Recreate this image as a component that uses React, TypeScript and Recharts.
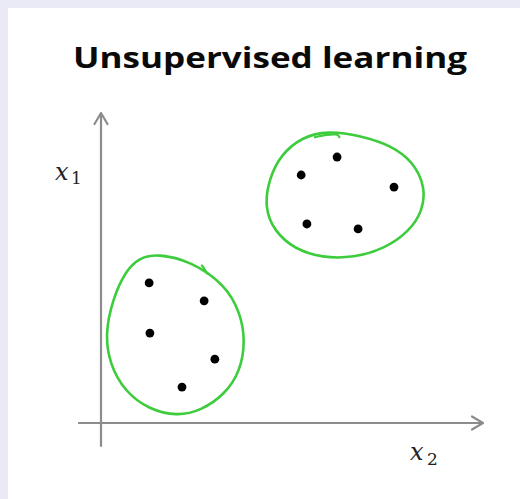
import React from 'react';
import { ComposedChart, Scatter, Line, XAxis, YAxis, ReferenceLine } from 'recharts';

// Unlabelled points, two groups
const groupA = [
  { x: 1.26, y: 4.52 },
  { x: 2.7, y: 3.94 },
  { x: 1.28, y: 2.9 },
  { x: 2.98, y: 2.06 },
  { x: 2.12, y: 1.16 },
];

const groupB = [
  { x: 5.24, y: 8.0 },
  { x: 6.18, y: 8.58 },
  { x: 7.67, y: 7.61 },
  { x: 5.39, y: 6.42 },
  { x: 6.73, y: 6.26 },
];

// Hand drawn loops around each group
const loopA = [
  { x: 1.47, y: 5.46 },
  { x: 2.36, y: 5.22 },
  { x: 3.26, y: 4.45 },
  { x: 3.64, y: 3.57 },
  { x: 3.78, y: 2.68 },
  { x: 3.65, y: 1.67 },
  { x: 3.24, y: 0.92 },
  { x: 2.62, y: 0.4 },
  { x: 1.99, y: 0.22 },
  { x: 1.25, y: 0.44 },
  { x: 0.62, y: 1.02 },
  { x: 0.22, y: 1.92 },
  { x: 0.11, y: 2.9 },
  { x: 0.31, y: 4.01 },
  { x: 0.64, y: 4.9 },
  { x: 1.0, y: 5.33 },
];

const loopB = [
  { x: 5.92, y: 9.43 },
  { x: 6.8, y: 9.27 },
  { x: 7.62, y: 8.94 },
  { x: 8.17, y: 8.43 },
  { x: 8.49, y: 7.62 },
  { x: 8.42, y: 6.84 },
  { x: 8.07, y: 6.18 },
  { x: 7.42, y: 5.62 },
  { x: 6.62, y: 5.33 },
  { x: 5.79, y: 5.33 },
  { x: 5.08, y: 5.6 },
  { x: 4.53, y: 6.19 },
  { x: 4.28, y: 6.97 },
  { x: 4.4, y: 7.88 },
  { x: 4.71, y: 8.66 },
  { x: 5.26, y: 9.22 },
];

// Pen overlaps where each loop was closed
const penA = [
  { x: 2.64, y: 5.08 },
  { x: 2.72, y: 4.95 },
  { x: 2.78, y: 4.82 },
];

const penB = [
  { x: 5.6, y: 9.22 },
  { x: 5.9, y: 9.3 },
  { x: 6.2, y: 9.33 },
  { x: 6.24, y: 9.22 },
];

const title = 'Unsupervised learning';
const xLabel = { base: 'x', sub: '2' };
const yLabel = { base: 'x', sub: '1' };

const axisColor = '#8c8c8c';
const loopColor = '#3ccc3c';

const AxisArrow = (props: any) => {
  const { x1, y1, x2, y2 } = props;
  const len = Math.hypot(x2 - x1, y2 - y1) || 1;
  const ux = (x2 - x1) / len;
  const uy = (y2 - y1) / len;
  const back = 11;
  const side = 6.5;
  const ax = x2 - ux * back;
  const ay = y2 - uy * back;
  return (
    <g>
      <line x1={x1} y1={y1} x2={x2} y2={y2} stroke={axisColor} strokeWidth={2.2} />
      <polyline
        points={`${ax - uy * side},${ay + ux * side} ${x2},${y2} ${ax + uy * side},${ay - ux * side}`}
        fill="none"
        stroke={axisColor}
        strokeWidth={2.2}
        strokeLinejoin="round"
        strokeLinecap="round"
      />
    </g>
  );
};

const Dot = (props: any) => <circle cx={props.cx} cy={props.cy} r={4.4} fill="#000" />;

const mathFont = '"DejaVu Serif", serif';

export default function App() {
  return (
    <div style={{ background: '#eae9f6', position: 'absolute', inset: 0 }}>
      <div style={{ position: 'absolute', left: 8, top: 8, background: '#fff', width: 512, height: 491 }}>
        <ComposedChart width={512} height={491} margin={{ top: 105, right: 37, bottom: 76, left: 93 }}>
          <XAxis type="number" dataKey="x" domain={[0, 10]} hide />
          <YAxis type="number" dataKey="y" domain={[0, 10]} hide />
          <ReferenceLine
            segment={[{ x: -0.6, y: 0 }, { x: 10, y: 0 }]}
            ifOverflow="visible"
            shape={AxisArrow}
          />
          <ReferenceLine
            segment={[{ x: 0, y: -0.77 }, { x: 0, y: 10 }]}
            ifOverflow="visible"
            shape={AxisArrow}
          />
          {[loopA, loopB].map((loop, i) => (
            <Line
              key={`loop-${i}`}
              data={loop}
              dataKey="y"
              type="basisClosed"
              stroke={loopColor}
              strokeWidth={2.6}
              dot={false}
              isAnimationActive={false}
            />
          ))}
          {[penA, penB].map((pen, i) => (
            <Line
              key={`pen-${i}`}
              data={pen}
              dataKey="y"
              type="basis"
              stroke={loopColor}
              strokeWidth={2.2}
              strokeLinecap="round"
              dot={false}
              isAnimationActive={false}
            />
          ))}
          <Scatter data={groupA} fill="#000" shape={Dot} isAnimationActive={false} />
          <Scatter data={groupB} fill="#000" shape={Dot} isAnimationActive={false} />
          <text
            x={262}
            y={60}
            textAnchor="middle"
            textLength={394}
            lengthAdjust="spacingAndGlyphs"
            style={{ fontFamily: '"Open Sans", Lato, sans-serif', fontWeight: 700, fontSize: 28, fill: '#0a0a0a' }}
          >
            {title}
          </text>
          <text x={47} y={172} style={{ fontFamily: mathFont, fontStyle: 'italic', fontSize: 24, fill: '#222' }}>
            {yLabel.base}
          </text>
          <text x={63} y={176} style={{ fontFamily: mathFont, fontSize: 17, fill: '#222' }}>
            {yLabel.sub}
          </text>
          <text x={402} y={452} style={{ fontFamily: mathFont, fontStyle: 'italic', fontSize: 24, fill: '#222' }}>
            {xLabel.base}
          </text>
          <text x={419} y={457} style={{ fontFamily: mathFont, fontSize: 17, fill: '#222' }}>
            {xLabel.sub}
          </text>
        </ComposedChart>
      </div>
    </div>
  );
}
